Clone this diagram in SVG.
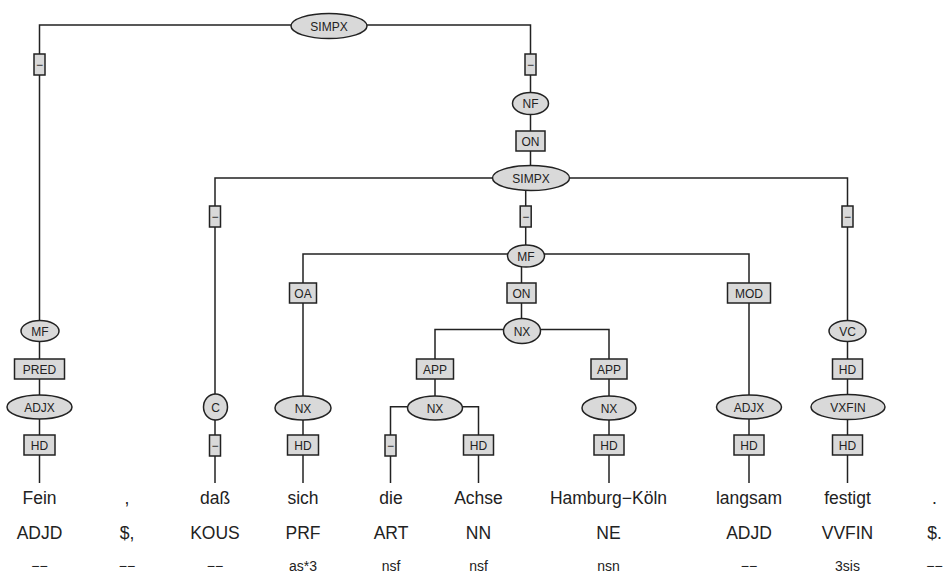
<svg xmlns="http://www.w3.org/2000/svg" width="946" height="575" viewBox="0 0 946 575">
<style>
.e{fill:none;stroke:#222;stroke-width:1.5}
.n{fill:#d9d9d9;stroke:#222;stroke-width:1.5}
.l{font-family:"Liberation Sans",Arial,sans-serif;font-size:12px;fill:#222;text-anchor:middle}
.w{font-family:"Liberation Sans",Arial,sans-serif;font-size:17.5px;fill:#222;text-anchor:middle}
.m{font-family:"Liberation Sans",Arial,sans-serif;font-size:14px;fill:#222;text-anchor:middle}
</style>
<rect width="946" height="575" fill="#fff"/>
<g id="connectors">
<path class="e" d="M329,25 H39.5 V331"/>
<path class="e" d="M329,25 H530.5 V103"/>
<path class="e" d="M530.5,103 V178"/>
<path class="e" d="M531,178 H215 V407"/>
<path class="e" d="M525.7,178 V256"/>
<path class="e" d="M531,178 H847.5 V331"/>
<path class="e" d="M526,254 H303 V408"/>
<path class="e" d="M521.5,256 V331"/>
<path class="e" d="M526,254 H749 V407"/>
<path class="e" d="M522,329.5 H435 V408"/>
<path class="e" d="M522,329.5 H609 V408"/>
<path class="e" d="M435,406.7 H390.5 V483"/>
<path class="e" d="M435,406.7 H478.5 V483"/>
<path class="e" d="M609,408 V483"/>
<path class="e" d="M303,408 V483"/>
<path class="e" d="M39.5,331 V483"/>
<path class="e" d="M215,407 V483"/>
<path class="e" d="M749,407 V483"/>
<path class="e" d="M847.5,331 V483"/>
</g>
<g id="edge-labels">
<g id="lbl-simpx-mf"><rect class="n" x="34" y="54" width="11" height="21"/><text class="l" x="39.5" y="68.5">−</text></g>
<g id="lbl-simpx-nf"><rect class="n" x="525" y="54" width="11" height="21"/><text class="l" x="530.5" y="68.5">−</text></g>
<g id="lbl-nf-simpx"><rect class="n" x="516" y="131" width="29" height="20"/><text class="l" x="530.5" y="145.5">ON</text></g>
<g id="lbl-simpx-c"><rect class="n" x="209.5" y="206" width="11" height="21"/><text class="l" x="215" y="220.5">−</text></g>
<g id="lbl-simpx-mf2"><rect class="n" x="520.2" y="206" width="11" height="21"/><text class="l" x="525.7" y="220.5">−</text></g>
<g id="lbl-simpx-vc"><rect class="n" x="842" y="206" width="11" height="21"/><text class="l" x="847.5" y="220.5">−</text></g>
<g id="lbl-oa"><rect class="n" x="289.5" y="283" width="27" height="20"/><text class="l" x="303" y="297.5">OA</text></g>
<g id="lbl-on"><rect class="n" x="507" y="283" width="29" height="20"/><text class="l" x="521.5" y="297.5">ON</text></g>
<g id="lbl-mod"><rect class="n" x="727.5" y="283" width="43" height="20"/><text class="l" x="749" y="297.5">MOD</text></g>
<g id="lbl-app1"><rect class="n" x="416.5" y="359" width="37" height="20"/><text class="l" x="435" y="373.5">APP</text></g>
<g id="lbl-app2"><rect class="n" x="591" y="359" width="36" height="20"/><text class="l" x="609" y="373.5">APP</text></g>
<g id="lbl-pred"><rect class="n" x="14.5" y="359" width="50" height="20"/><text class="l" x="39.5" y="373.5">PRED</text></g>
<g id="lbl-vc-hd"><rect class="n" x="832.5" y="359" width="30" height="20"/><text class="l" x="847.5" y="373.5">HD</text></g>
<g id="lbl-hd1"><rect class="n" x="24" y="435" width="31" height="20"/><text class="l" x="39.5" y="449.5">HD</text></g>
<g id="lbl-c"><rect class="n" x="209.5" y="435" width="11" height="21"/><text class="l" x="215" y="449.5">−</text></g>
<g id="lbl-hd2"><rect class="n" x="287.5" y="435" width="31" height="20"/><text class="l" x="303" y="449.5">HD</text></g>
<g id="lbl-art"><rect class="n" x="385" y="435" width="11" height="21"/><text class="l" x="390.5" y="449.5">−</text></g>
<g id="lbl-hd3"><rect class="n" x="463.5" y="435" width="30" height="20"/><text class="l" x="478.5" y="449.5">HD</text></g>
<g id="lbl-hd4"><rect class="n" x="594" y="435" width="30" height="20"/><text class="l" x="609" y="449.5">HD</text></g>
<g id="lbl-hd5"><rect class="n" x="734" y="435" width="30" height="20"/><text class="l" x="749" y="449.5">HD</text></g>
<g id="lbl-hd6"><rect class="n" x="832.5" y="435" width="30" height="20"/><text class="l" x="847.5" y="449.5">HD</text></g>
</g>
<g id="simpx1"><ellipse class="n" cx="329" cy="26" rx="38" ry="12.5"/><text class="l" x="329" y="30.5">SIMPX</text></g>
<g id="nf"><ellipse class="n" cx="530.5" cy="103.5" rx="18" ry="11"/><text class="l" x="530.5" y="108">NF</text></g>
<g id="simpx2"><ellipse class="n" cx="531" cy="178" rx="38.5" ry="12.5"/><text class="l" x="531" y="182.5">SIMPX</text></g>
<g id="mf-center"><ellipse class="n" cx="526" cy="256" rx="18.5" ry="11"/><text class="l" x="526" y="260.5">MF</text></g>
<g id="nx-on"><ellipse class="n" cx="522" cy="331" rx="18.5" ry="12.5"/><text class="l" x="522" y="335.5">NX</text></g>
<g id="mf-left"><ellipse class="n" cx="40" cy="331" rx="19" ry="10.5"/><text class="l" x="40" y="335.5">MF</text></g>
<g id="vc"><ellipse class="n" cx="847.5" cy="331" rx="18.5" ry="10.5"/><text class="l" x="847.5" y="335.5">VC</text></g>
<g id="adjx-left"><ellipse class="n" cx="39.5" cy="407" rx="32.5" ry="12"/><text class="l" x="39.5" y="411.5">ADJX</text></g>
<g id="c"><ellipse class="n" cx="215.5" cy="407" rx="12" ry="13"/><text class="l" x="215.5" y="411.5">C</text></g>
<g id="nx-oa"><ellipse class="n" cx="303" cy="408" rx="28" ry="12"/><text class="l" x="303" y="412.5">NX</text></g>
<g id="nx-app1"><ellipse class="n" cx="435" cy="408" rx="27.5" ry="12"/><text class="l" x="435" y="412.5">NX</text></g>
<g id="nx-app2"><ellipse class="n" cx="609" cy="408" rx="27" ry="12"/><text class="l" x="609" y="412.5">NX</text></g>
<g id="adjx-right"><ellipse class="n" cx="749" cy="407" rx="32.5" ry="12"/><text class="l" x="749" y="411.5">ADJX</text></g>
<g id="vxfin"><ellipse class="n" cx="848" cy="407" rx="37" ry="12.5"/><text class="l" x="848" y="411.5">VXFIN</text></g>
<g id="words">
<text class="w" x="39.5" y="504">Fein</text>
<text class="w" x="127" y="504">,</text>
<text class="w" x="215" y="504">daß</text>
<text class="w" x="303" y="504">sich</text>
<text class="w" x="391" y="504">die</text>
<text class="w" x="478.5" y="504">Achse</text>
<text class="w" x="608.5" y="504">Hamburg−Köln</text>
<text class="w" x="749" y="504">langsam</text>
<text class="w" x="847.5" y="504">festigt</text>
<text class="w" x="934.5" y="504">.</text>
</g>
<g id="pos">
<text class="w" x="39.5" y="539">ADJD</text>
<text class="w" x="127" y="539">$,</text>
<text class="w" x="215" y="539">KOUS</text>
<text class="w" x="303" y="539">PRF</text>
<text class="w" x="391" y="539">ART</text>
<text class="w" x="478.5" y="539">NN</text>
<text class="w" x="608.5" y="539">NE</text>
<text class="w" x="749" y="539">ADJD</text>
<text class="w" x="847.5" y="539">VVFIN</text>
<text class="w" x="934.5" y="539">$.</text>
</g>
<g id="morph">
<text class="m" x="39.5" y="571">−−</text>
<text class="m" x="127" y="571">−−</text>
<text class="m" x="215" y="571">−−</text>
<text class="m" x="303" y="571">as*3</text>
<text class="m" x="391" y="571">nsf</text>
<text class="m" x="478.5" y="571">nsf</text>
<text class="m" x="608.5" y="571">nsn</text>
<text class="m" x="749" y="571">−−</text>
<text class="m" x="847.5" y="571">3sis</text>
<text class="m" x="934.5" y="571">−−</text>
</g>
</svg>
